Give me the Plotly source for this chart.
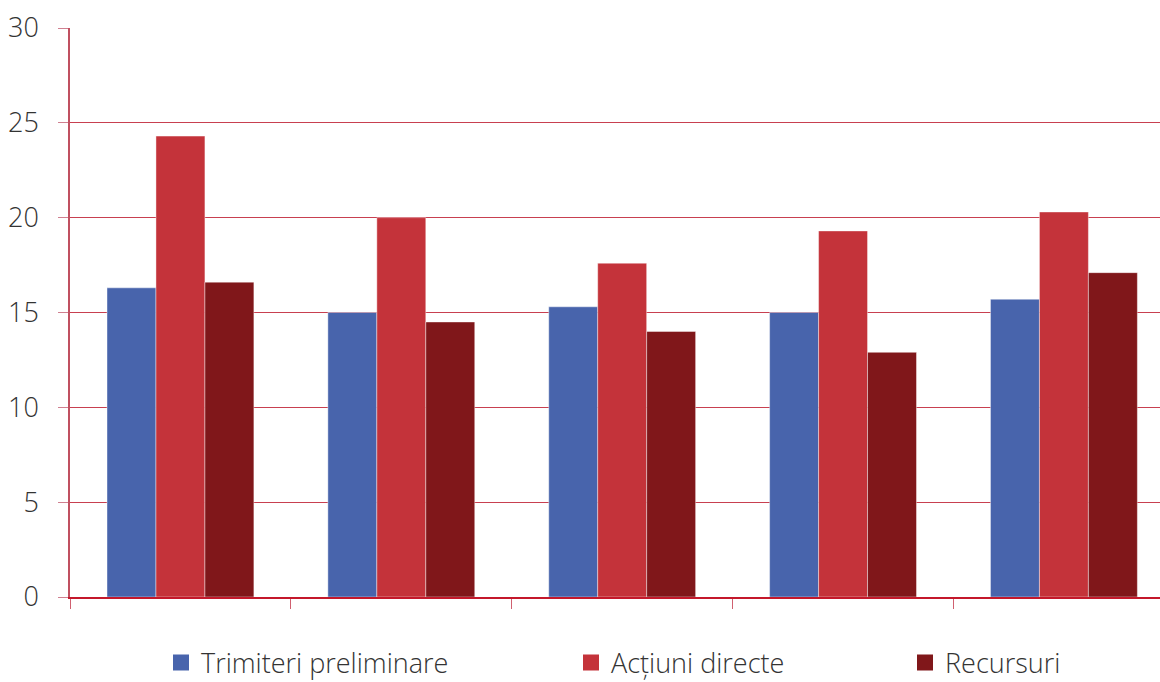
import plotly.graph_objects as go

categories = ["1", "2", "3", "4", "5"]
trimiteri = [16.3, 15.0, 15.3, 15.0, 15.7]
actiuni = [24.3, 20.0, 17.6, 19.3, 20.3]
recursuri = [16.6, 14.5, 14.0, 12.9, 17.1]

series_names = ["Trimiteri preliminare", "Acțiuni directe", "Recursuri"]
series_values = [trimiteri, actiuni, recursuri]
colors = ["#4864AC", "#C4333A", "#80171A"]
legend_ids = ["legend", "legend2", "legend3"]
legend_x = [161, 571, 905]

FONT = dict(family="Open Sans, DejaVu Sans, sans-serif", size=27, color="#333333", weight=300)

fig = go.Figure()
for name, vals, col in zip(series_names, series_values, colors):
    fig.add_trace(go.Bar(x=categories, y=vals, name=name, marker=dict(color=col, line=dict(width=0.6, color="rgba(255,255,255,0.7)")), showlegend=False))

for name, col, lid in zip(series_names, colors, legend_ids):
    fig.add_trace(go.Scatter(x=[None], y=[None], mode="markers", name=name,
                             marker=dict(symbol="square", size=16, color=col),
                             legend=lid, showlegend=True))

fig.update_layout(
    width=1160, height=682,
    margin=dict(l=70, r=0, t=28, b=85),
    paper_bgcolor="white", plot_bgcolor="white",
    barmode="group", bargap=0.335, bargroupgap=0,
    font=FONT,
    xaxis=dict(type="category", range=[-0.5, 4.435], showticklabels=False,
               ticks="outside", tickson="boundaries", ticklen=10, tickcolor="#d06070",
               showline=True, linecolor="#c4182b", linewidth=1.5, showgrid=False, zeroline=False),
    yaxis=dict(range=[0, 30], dtick=5, tick0=0, showgrid=True, gridcolor="#c84050", gridwidth=1,
               ticks="outside", ticklen=10, tickcolor="#d08090", showline=True, linecolor="#c05060",
               linewidth=1.5, zeroline=False, tickfont=FONT, ticklabelstandoff=14),
)
for lid, lx in zip(legend_ids, legend_x):
    fig.update_layout({lid: dict(orientation="h", xref="container", yref="container",
                                 x=lx / 1160, y=1 - 663 / 682, xanchor="left", yanchor="middle",
                                 font=FONT, bgcolor="rgba(0,0,0,0)")})

fig.write_html("out.html")
